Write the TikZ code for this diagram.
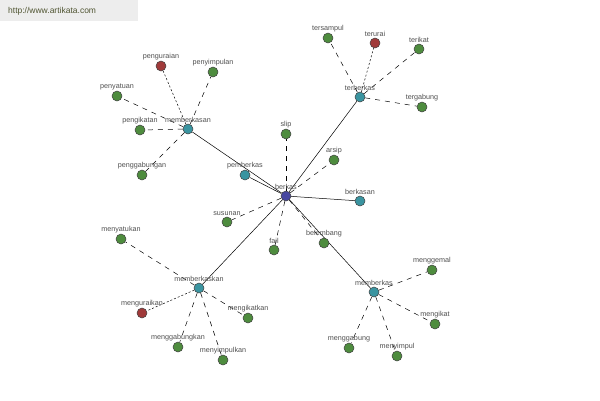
\documentclass[tikz,border=0pt]{standalone}
\usepackage{fontspec}
\setmainfont{Liberation Sans}
\usetikzlibrary{backgrounds}
\definecolor{gn}{RGB}{78,140,62}
\definecolor{cy}{RGB}{58,148,160}
\definecolor{rd}{RGB}{160,58,58}
\definecolor{bl}{RGB}{70,70,160}
\definecolor{lblc}{RGB}{80,80,80}
\definecolor{wm}{RGB}{80,85,50}
\tikzset{
  vtx/.style={circle,draw=black!75,line width=0.5pt,inner sep=0pt,minimum size=10pt},
  g/.style={vtx,fill=gn},
  c/.style={vtx,fill=cy},
  r/.style={vtx,fill=rd},
  b/.style={vtx,fill=bl},
  lbl/.style={font=\fontsize{7.2}{8}\selectfont,text=lblc,inner sep=1pt},
  every label/.style={lbl},
  solidedge/.style={draw=black,line width=0.5pt},
  dashedge/.style={draw=black,line width=0.5pt,dash pattern=on 5pt off 5pt},
  dotedge/.style={draw=black,line width=0.5pt,dash pattern=on 2pt off 2pt},
  label distance=0pt
}
\begin{document}
\begin{tikzpicture}[x=1pt,y=-1pt]
\useasboundingbox (0,0) rectangle (600,400);

% center
\node[b,label=above:berkas] (berkas) at (286,196) {};
% cyan
\node[c,label=above:memberkasan] (memberkasan) at (188,129) {};
\node[c,label=above:terberkas] (terberkas) at (360,97) {};
\node[c,label=above:pemberkas] (pemberkas) at (245,175) {};
\node[c,label=above:berkasan] (berkasan) at (360,201) {};
\node[c,label=above:memberkaskan] (memberkaskan) at (199,288) {};
\node[c,label=above:memberkas] (memberkas) at (374,292) {};
% memberkasan cluster
\node[r,label=above:penguraian] (penguraian) at (161,66) {};
\node[g,label=above:penyimpulan] (penyimpulan) at (213,72) {};
\node[g,label=above:penyatuan] (penyatuan) at (117,96) {};
\node[g,label=above:pengikatan] (pengikatan) at (140,130) {};
\node[g,label=above:penggabungan] (penggabungan) at (142,175) {};
% terberkas cluster
\node[g,label=above:tersampul] (tersampul) at (328,38) {};
\node[r,label=above:terurai] (terurai) at (375,43) {};
\node[g,label=above:terikat] (terikat) at (419,49) {};
\node[g,label=above:tergabung] (tergabung) at (422,107) {};
% berkas cluster
\node[g,label=above:slip] (slip) at (286,134) {};
\node[g,label=above:arsip] (arsip) at (334,160) {};
\node[g,label=above:susunan] (susunan) at (227,222) {};
\node[g,label=above:fail] (fail) at (274,250) {};
\node[g,label=above:belembang] (belembang) at (324,243) {};
% memberkaskan cluster
\node[g,label=above:menyatukan] (menyatukan) at (121,239) {};
\node[r,label=above:menguraikan] (menguraikan) at (142,313) {};
\node[g,label=above:mengikatkan] (mengikatkan) at (248,318) {};
\node[g,label=above:menggabungkan] (menggabungkan) at (178,347) {};
\node[g,label=above:menyimpulkan] (menyimpulkan) at (223,360) {};
% memberkas cluster
\node[g,label=above:menggemal] (menggemal) at (432,270) {};
\node[g,label=above:mengikat] (mengikat) at (435,324) {};
\node[g,label=above:menggabung] (menggabung) at (349,348) {};
\node[g,label=above:menyimpul] (menyimpul) at (397,356) {};

\begin{scope}[on background layer]
\fill[white] (0,0) rectangle (600,400);
\fill[gray!14] (0,0) rectangle (138,21);
\node[font=\fontsize{8.5}{10}\selectfont,text=wm,anchor=west,inner sep=0pt] (wmk) at (8,11) {http://www.artikata.com};
\draw[solidedge] (berkas) -- (memberkasan);
\draw[solidedge] (berkas) -- (terberkas);
\draw[solidedge] (berkas) -- (pemberkas);
\draw[solidedge] (berkas) -- (berkasan);
\draw[solidedge] (berkas) -- (memberkaskan);
\draw[solidedge] (berkas) -- (memberkas);
\draw[dashedge] (berkas) -- (slip);
\draw[dashedge] (berkas) -- (arsip);
\draw[dashedge] (berkas) -- (susunan);
\draw[dashedge] (berkas) -- (fail);
\draw[dashedge] (berkas) -- (belembang);
\draw[dotedge] (memberkasan) -- (penguraian);
\draw[dashedge] (memberkasan) -- (penyimpulan);
\draw[dashedge] (memberkasan) -- (penyatuan);
\draw[dashedge] (memberkasan) -- (pengikatan);
\draw[dashedge] (memberkasan) -- (penggabungan);
\draw[dashedge] (terberkas) -- (tersampul);
\draw[dotedge] (terberkas) -- (terurai);
\draw[dashedge] (terberkas) -- (terikat);
\draw[dashedge] (terberkas) -- (tergabung);
\draw[dashedge] (memberkaskan) -- (menyatukan);
\draw[dotedge] (memberkaskan) -- (menguraikan);
\draw[dashedge] (memberkaskan) -- (mengikatkan);
\draw[dashedge] (memberkaskan) -- (menggabungkan);
\draw[dashedge] (memberkaskan) -- (menyimpulkan);
\draw[dashedge] (memberkas) -- (menggemal);
\draw[dashedge] (memberkas) -- (mengikat);
\draw[dashedge] (memberkas) -- (menggabung);
\draw[dashedge] (memberkas) -- (menyimpul);
\end{scope}
\end{tikzpicture}
\end{document}
